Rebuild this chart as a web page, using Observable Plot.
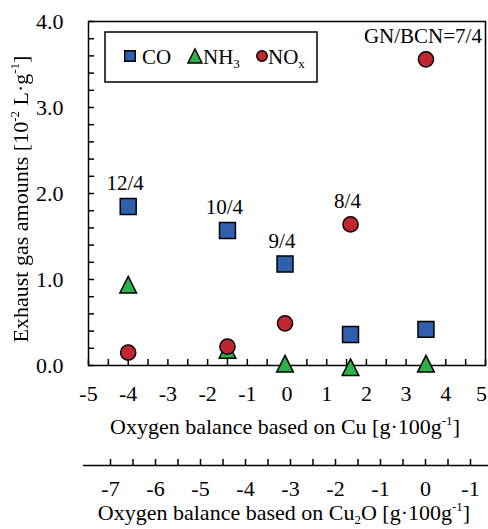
<!DOCTYPE html>
<html><head><meta charset="utf-8">
<script src="https://cdn.jsdelivr.net/npm/d3@7"></script>
<script src="https://cdn.jsdelivr.net/npm/@observablehq/plot@0.6"></script>
<style>
body{margin:0;background:#fff;}
#chart{position:relative;width:488px;height:529px;}
#chart svg{display:block;overflow:visible;}
#chart svg text, #chart svg tspan{font-family:'Liberation Serif','Times New Roman','DejaVu Serif',serif !important;}
.ytitle{filter:grayscale(100%);}
</style></head><body><div id="chart"></div>
<script>
// ---- data ----
const cuBalance = [-4, -1.5, -0.05, 1.6, 3.5];
const coValues = [1.85, 1.57, 1.18, 0.36, 0.42];
const nh3Values = [0.94, 0.18, 0.02, -0.02, 0.02];
const noxValues = [0.15, 0.22, 0.49, 1.64, 3.56];
const ratioLabels = ["12/4", "10/4", "9/4", "8/4", "GN/BCN=7/4"];
const yTicks = [0, 1, 2, 3, 4];
const cuTicks = [-5, -4, -3, -2, -1, 0, 1, 2, 3, 4, 5];
const cu2oTicks = [-7, -6, -5, -4, -3, -2, -1, 0, 1];
const cu2oTickLabels = ["-7", "-6", "-5", "-4", "-3", "-2", "-1", "0", "-1"];
const seriesNames = ["CO", "NH3", "NOx"];
const seriesColors = ["#2f5fad", "#2db14a", "#c0262f"];

const font = "'Liberation Serif', 'Times New Roman', serif";
const rows = cuBalance.map((x, i) => ({
  x, co: coValues[i], nh3: nh3Values[i], nox: noxValues[i], label: ratioLabels[i],
  top: Math.max(coValues[i], nh3Values[i], noxValues[i])
}));

// Excel-like triangle (width == height), centred on its bounding box
const triangle = {draw(ctx, size) {
  const s = Math.sqrt(size);
  ctx.moveTo(0, -s / 2); ctx.lineTo(s / 2, s / 2); ctx.lineTo(-s / 2, s / 2); ctx.closePath();
}};

const innerCuTicks = cuTicks.slice(0, -1);
const lastCuTick = cuTicks.slice(-1);

const main = Plot.plot({
  width: 488, height: 445,
  marginTop: 21, marginLeft: 88, marginRight: 3, marginBottom: 80,
  style: {fontFamily: font, fontSize: "22px", color: "#000", background: "transparent", overflow: "visible"},
  x: {domain: [-5, 5], label: null},
  y: {domain: [0, 4], label: null},
  marks: [
    Plot.frame({strokeWidth: 1.5}),
    Plot.axisX(d3.range(-10, 11).map(i => i / 2), {tickSize: -6, fill: "none", strokeWidth: 1.5, label: null}),
    Plot.axisX(innerCuTicks, {tickSize: 0, tickPadding: 20, tickFormat: d => String(d), label: null}),
    Plot.axisX(lastCuTick, {tickSize: 0, tickPadding: 20, dx: -4, tickFormat: d => String(d), label: null}),
    Plot.axisY(d3.range(0, 21).map(i => i / 5), {tickSize: -6, fill: "none", strokeWidth: 1.5, label: null}),
    Plot.axisY(yTicks, {tickSize: 0, tickPadding: 25, tickFormat: d => d.toFixed(1), label: null}),
    Plot.dot(rows, {x: "x", y: "co", symbol: "square", r: 9, fill: seriesColors[0], stroke: "#000", strokeWidth: 1.5}),
    Plot.dot(rows, {x: "x", y: "nh3", symbol: triangle, r: 9.4, fill: seriesColors[1], stroke: "#000", strokeWidth: 1.5}),
    Plot.dot(rows, {x: "x", y: "nox", symbol: "circle", r: 7.6, fill: seriesColors[2], stroke: "#000", strokeWidth: 1.5}),
    Plot.text(rows, {x: "x", y: "top", text: "label", dy: -23, dx: -3, fontSize: 21})
  ]
});

const bottom = Plot.plot({
  width: 488, height: 84,
  marginTop: 0, marginLeft: 83, marginRight: 0, marginBottom: 64,
  style: {fontFamily: font, fontSize: "22px", color: "#000", background: "transparent", overflow: "visible"},
  x: {domain: [-7.6, 1.4], label: null},
  y: {domain: [0, 1], axis: null, label: null},
  marks: [
    Plot.ruleY([0], {strokeWidth: 1.5}),
    Plot.axisX(d3.range(-14, 3).map(i => i / 2), {tickSize: -6, fill: "none", strokeWidth: 1.5, label: null}),
    Plot.axisX(cu2oTicks, {tickSize: 0, tickPadding: 15, tickFormat: d => cu2oTickLabels[cu2oTicks.indexOf(d)], label: null})
  ]
});

const chart = document.getElementById("chart");
chart.appendChild(main);
chart.appendChild(bottom);

// rich text helper: parts = [[text, "sup"|"sub"|null], ...]
function richText(parent, parts, fs) {
  const t = parent.append("text").attr("font-size", fs).attr("fill", "#000").attr("text-anchor", "start");
  let shift = 0;
  for (const [s, kind] of parts) {
    const target = kind === "sup" ? -0.42 * fs : kind === "sub" ? 0.2 * fs : 0;
    const sp = t.append("tspan").attr("dy", target - shift).text(s);
    if (kind) sp.attr("font-size", Math.round(fs * 0.6));
    shift = target;
  }
  return t;
}

const ms = d3.select(main);
const bs = d3.select(bottom);

// x title (Cu)
richText(ms, [["Oxygen balance based on Cu [g\u00b7100g", null], ["-1", "sup"], ["]", null]], 22)
  .attr("x", 285).attr("y", 434).attr("text-anchor", "middle");
// y title
richText(ms.append("g").attr("class", "ytitle").attr("transform", "translate(28,199) rotate(-90)"),
  [["Exhaust gas amounts [10", null], ["-2", "sup"], [" L\u00b7g", null], ["-1", "sup"], ["]", null]], 22)
  .attr("text-anchor", "middle");
// x title (Cu2O)
richText(bs, [["Oxygen balance based on Cu", null], ["2", "sub"], ["O [g\u00b7100g", null], ["-1", "sup"], ["]", null]], 22)
  .attr("x", 284).attr("y", 75).attr("text-anchor", "middle");

// legend
const lg = ms.append("g");
lg.append("rect").attr("x", 105).attr("y", 32).attr("width", 212).attr("height", 50)
  .attr("fill", "#fff").attr("stroke", "#000").attr("stroke-width", 1.5);
const legendSymbols = [d3.symbolSquare, null, d3.symbolCircle];
const legendX = [130, 195, 262];
const textX = [142, 203, 268];
seriesNames.forEach((name, i) => {
  const g = lg.append("g").attr("transform", `translate(${legendX[i]},56)`);
  const d = i === 1 ? "M0,-7L7,7L-7,7Z" : d3.symbol(legendSymbols[i], i === 0 ? 110 : 85)();
  g.append("path").attr("d", d).attr("fill", seriesColors[i]).attr("stroke", "#000").attr("stroke-width", 1.5);
  const parts = name === "NH3" ? [["NH", null], ["3", "sub"]] : name === "NOx" ? [["NO", null], ["x", "sub"]] : [[name, null]];
  richText(lg, parts, 21).attr("x", textX[i]).attr("y", 64);
});
</script></body></html>
